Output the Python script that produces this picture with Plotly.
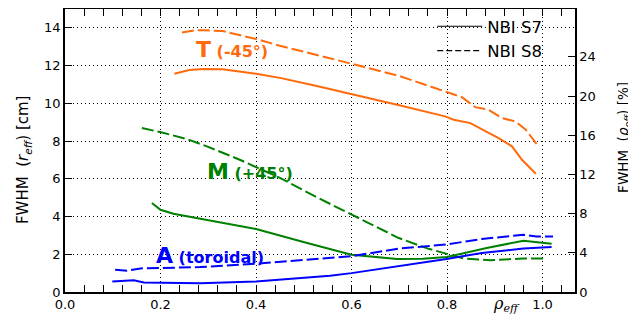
import plotly.graph_objects as go

# ---- data (rho_eff, FWHM in cm) ----
t_s7_x = [0.229, 0.26, 0.29, 0.33, 0.40, 0.45, 0.525, 0.6, 0.7, 0.796, 0.814, 0.849, 0.878, 0.908, 0.936, 0.957, 0.986]
t_s7_y = [11.57, 11.77, 11.82, 11.80, 11.57, 11.35, 10.93, 10.5, 9.9, 9.31, 9.13, 8.95, 8.57, 8.16, 7.72, 7.01, 6.27]

t_s8_x = [0.245, 0.27, 0.29, 0.33, 0.40, 0.45, 0.525, 0.6, 0.7, 0.796, 0.831, 0.859, 0.887, 0.915, 0.943, 0.965, 0.99]
t_s8_y = [13.76, 13.86, 13.88, 13.83, 13.41, 13.05, 12.58, 12.10, 11.45, 10.63, 10.33, 9.80, 9.66, 9.22, 9.04, 8.6, 7.77]

m_s7_x = [0.182, 0.2, 0.227, 0.297, 0.40, 0.507, 0.555, 0.6, 0.695, 0.75, 0.799, 0.883, 0.96, 1.019]
m_s7_y = [4.72, 4.36, 4.15, 3.83, 3.34, 2.60, 2.29, 1.98, 1.75, 1.76, 1.85, 2.33, 2.72, 2.56]

m_s8_x = [0.161, 0.199, 0.255, 0.297, 0.366, 0.45, 0.525, 0.6, 0.699, 0.76, 0.799, 0.834, 0.89, 0.96, 1.009]
m_s8_y = [8.69, 8.48, 8.11, 7.72, 7.01, 6.05, 5.05, 4.10, 2.86, 2.3, 2.02, 1.78, 1.68, 1.78, 1.78]

a_s7_x = [0.099, 0.144, 0.165, 0.2, 0.283, 0.40, 0.555, 0.6, 0.699, 0.799, 0.873, 0.96, 1.019]
a_s7_y = [0.55, 0.62, 0.51, 0.49, 0.46, 0.55, 0.86, 1.0, 1.37, 1.75, 2.07, 2.30, 2.38]

a_s8_x = [0.105, 0.13, 0.158, 0.227, 0.283, 0.40, 0.555, 0.6, 0.699, 0.799, 0.873, 0.96, 0.987, 1.022]
a_s8_y = [1.18, 1.13, 1.25, 1.27, 1.32, 1.50, 1.80, 1.90, 2.30, 2.52, 2.81, 3.04, 2.94, 2.94]

x_ticks = [0.0, 0.2, 0.4, 0.6, 0.8, 1.0]
y_ticks = [0, 2, 4, 6, 8, 10, 12, 14]
y2_ticks = [0, 4, 8, 12, 16, 20, 24]

ORANGE = "#ff6a0a"
GREEN = "#008000"
BLUE = "#0000ff"
DASH = "12px,4px"

fig = go.Figure()

def add(x, y, color, dash):
    fig.add_trace(go.Scatter(x=x, y=y, mode="lines", showlegend=False,
                             line=dict(color=color, width=2, dash=dash),
                             hoverinfo="skip"))

add(t_s7_x, t_s7_y, ORANGE, "solid")
add(t_s8_x, t_s8_y, ORANGE, DASH)
add(m_s7_x, m_s7_y, GREEN, "solid")
add(m_s8_x, m_s8_y, GREEN, DASH)
add(a_s7_x, a_s7_y, BLUE, "solid")
add(a_s8_x, a_s8_y, BLUE, DASH)

# legend entries
fig.add_trace(go.Scatter(x=[None], y=[None], mode="lines", name="NBI S7",
                         line=dict(color="black", width=1.2)))
fig.add_trace(go.Scatter(x=[None], y=[None], mode="lines", name="NBI S8",
                         line=dict(color="black", width=1.2, dash="6px,3px")))
# anchor for secondary axis
fig.add_trace(go.Scatter(x=[None], y=[None], yaxis="y2", showlegend=False, mode="lines"))

tickfont = dict(family="DejaVu Sans", size=13, color="black")

# the page body has an 8px default margin, so the figure is sized to fit the 636x325 window
fig.update_layout(
    width=628, height=309,
    margin=dict(l=57, r=61, t=1, b=25),
    paper_bgcolor="white", plot_bgcolor="white",
    font=dict(family="DejaVu Sans", color="black"),
    xaxis=dict(range=[0, 1.068], tickvals=x_ticks, tickformat=".1f",
               ticks="inside", ticklen=7, tickwidth=1, tickcolor="black",
               minor=dict(ticks="inside", dtick=0.04, tick0=0, ticklen=4, tickcolor="black", showgrid=False),
               showline=True, linecolor="black", linewidth=1.5, mirror="allticks",
               showgrid=True, gridcolor="black", gridwidth=1, griddash="1px,3px",
               zeroline=False, tickfont=tickfont, automargin=False),
    yaxis=dict(range=[0, 15], tickvals=y_ticks,
               ticks="inside", ticklen=7, tickwidth=1, tickcolor="black",
               showline=True, linecolor="black", linewidth=1.5, mirror=True,
               showgrid=True, gridcolor="black", gridwidth=1, griddash="1px,3px",
               zeroline=False, tickfont=tickfont, automargin=False),
    yaxis2=dict(range=[0, 28.88], tickvals=y2_ticks, overlaying="y", side="right",
                ticks="inside", ticklen=7, tickwidth=1, tickcolor="black",
                showline=True, linecolor="black", linewidth=1.5,
                showgrid=False, zeroline=False, tickfont=tickfont, automargin=False),
    legend=dict(x=0.72, y=1.0, xanchor="left", yanchor="top",
                bgcolor="rgba(0,0,0,0)", borderwidth=0,
                font=dict(family="DejaVu Sans", size=16.5, color="black"),
                itemwidth=45, tracegroupgap=0),
    showlegend=True,
)

anns = [
    dict(x=0.270, y=12.85, xref="x", yref="y",
         text="<b>T</b><span style='font-size:16px'><b> (-45°)</b></span>",
         font=dict(family="DejaVu Sans", size=22, color=ORANGE)),
    dict(x=0.293, y=6.4, xref="x", yref="y",
         text="<b>M</b><span style='font-size:16px'><b> (+45°)</b></span>",
         font=dict(family="DejaVu Sans", size=22, color=GREEN)),
    dict(x=0.187, y=1.93, xref="x", yref="y",
         text="<b>A</b><span style='font-size:16px'><b> (toroidal)</b></span>",
         font=dict(family="DejaVu Sans", size=22, color=BLUE)),
]
for a in anns:
    fig.add_annotation(showarrow=False, xanchor="left", yanchor="middle", **a)

# axis titles
fig.add_annotation(x=-0.080, y=0.467, xref="paper", yref="paper", showarrow=False,
                   textangle=-90, xanchor="center", yanchor="middle",
                   text="FWHM  (<i>r</i><sub><i>eff</i></sub>) [cm]",
                   font=dict(family="DejaVu Sans", size=15, color="black"))
fig.add_annotation(x=1.096, y=0.548, xref="paper", yref="paper", showarrow=False,
                   textangle=-90, xanchor="center", yanchor="middle",
                   text="FWHM  (<i>ρ</i><sub><i>eff</i></sub>) [%]",
                   font=dict(family="DejaVu Sans", size=13.5, color="black"))
fig.add_annotation(x=0.925, y=-0.045, xref="x", yref="paper", showarrow=False,
                   xanchor="center", yanchor="middle",
                   text="<i>ρ</i><sub><i>eff</i></sub>",
                   font=dict(family="DejaVu Serif", size=16, color="black"))

fig.write_html("out.html")
